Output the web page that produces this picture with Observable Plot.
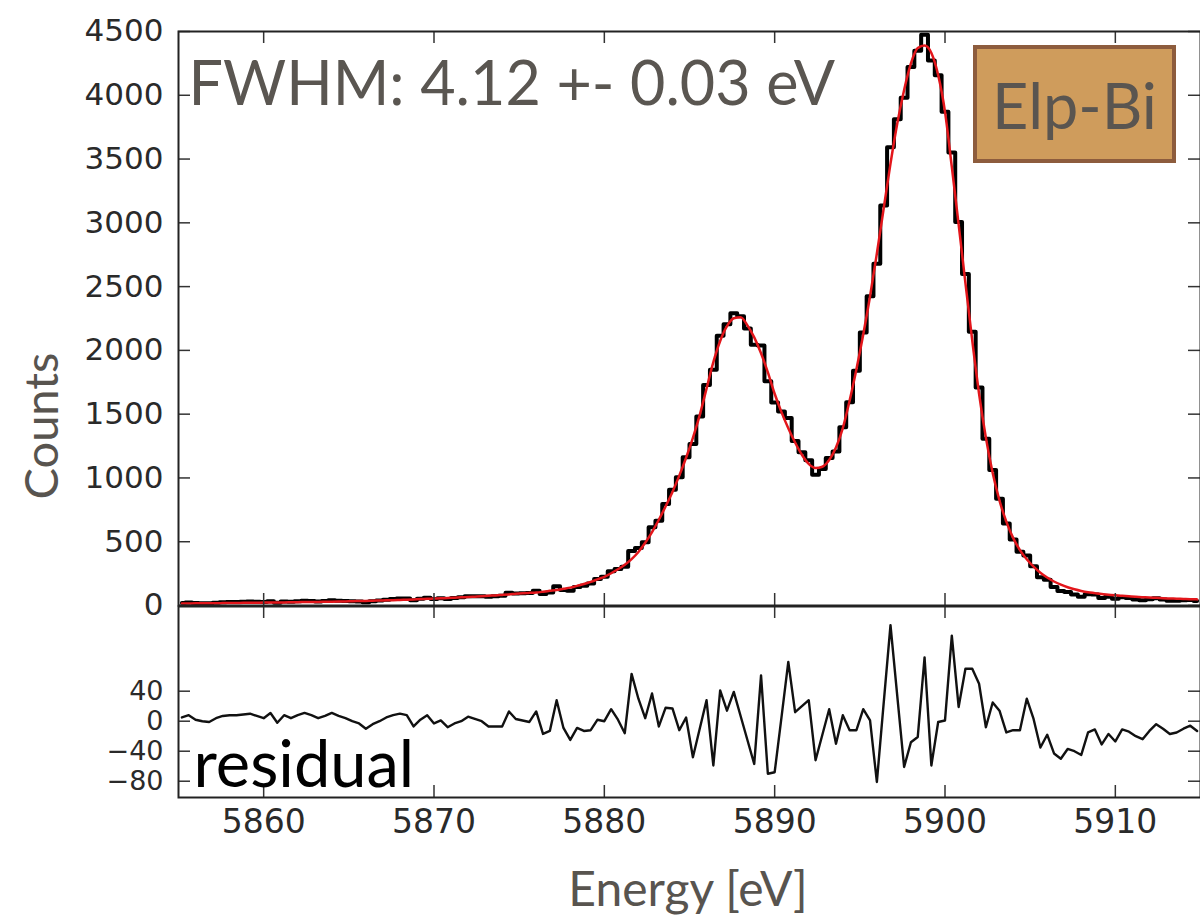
<!DOCTYPE html>
<html><head><meta charset="utf-8">
<script src="https://cdn.jsdelivr.net/npm/d3@7"></script>
<script src="https://cdn.jsdelivr.net/npm/@observablehq/plot@0.6"></script>
<style>
html,body{margin:0;padding:0;background:#fff;}
#wrap{position:relative;width:1200px;height:922px;overflow:hidden;background:#fff;}
#wrap svg{position:absolute;left:0;}
#main{top:0;} #resid{top:605px;}
.lbl{position:absolute;font-family:Lato,sans-serif;color:#58544f;line-height:1;white-space:nowrap;}
#ylab{left:40px;top:426px;font-size:47px;transform:translate(-50%,-50%) rotate(-90deg);}
#xlab{left:688px;top:888px;font-size:48px;transform:translate(-50%,-50%);}
#badge{position:absolute;left:973px;top:45px;width:203px;height:118px;box-sizing:border-box;border:4px solid #8d5c3d;background:#cf9c5c;display:flex;align-items:center;justify-content:center;font-family:Lato,sans-serif;font-size:63px;color:#5a5550;line-height:1;}
</style></head><body><div id="wrap"></div>
<script>
const energy = [
5855.2,5855.6,5856,5856.4,5856.8,5857.2,5857.6,5858,5858.4,5858.8,
5859.2,5859.6,5860,5860.4,5860.8,5861.2,5861.6,5862,5862.4,5862.8,
5863.2,5863.6,5864,5864.4,5864.8,5865.2,5865.6,5866,5866.4,5866.8,
5867.2,5867.6,5868,5868.4,5868.8,5869.2,5869.6,5870,5870.4,5870.8,
5871.2,5871.6,5872,5872.4,5872.8,5873.2,5873.6,5874,5874.4,5874.8,
5875.2,5875.6,5876,5876.4,5876.8,5877.2,5877.6,5878,5878.4,5878.8,
5879.2,5879.6,5880,5880.4,5880.8,5881.2,5881.6,5882,5882.4,5882.8,
5883.2,5883.6,5884,5884.4,5884.8,5885.2,5885.6,5886,5886.4,5886.8,
5887.2,5887.6,5888,5888.4,5888.8,5889.2,5889.6,5890,5890.4,5890.8,
5891.2,5891.6,5892,5892.4,5892.8,5893.2,5893.6,5894,5894.4,5894.8,
5895.2,5895.6,5896,5896.4,5896.8,5897.2,5897.6,5898,5898.4,5898.8,
5899.2,5899.6,5900,5900.4,5900.8,5901.2,5901.6,5902,5902.4,5902.8,
5903.2,5903.6,5904,5904.4,5904.8,5905.2,5905.6,5906,5906.4,5906.8,
5907.2,5907.6,5908,5908.4,5908.8,5909.2,5909.6,5910,5910.4,5910.8,
5911.2,5911.6,5912,5912.4,5912.8,5913.2,5913.6,5914,5914.4,5914.8];

const counts = [
20,24,19,17,17,22,26,28,28,30,
31,29,27,34,22,32,29,34,38,36,
32,36,41,38,36,34,32,26,34,39,
46,50,54,54,41,52,60,51,57,51,
58,64,72,72,72,69,72,76,100,95,
97,98,115,91,102,150,122,115,145,155,
173,207,225,269,286,304,427,450,496,613,
665,796,907,1006,1163,1266,1482,1728,1849,2115,
2204,2291,2267,2171,2045,2039,1758,1592,1521,1469,
1290,1202,1138,1026,1070,1156,1208,1398,1594,1840,
2140,2425,2679,3136,3592,3813,3981,4222,4349,4475,
4273,4157,3871,3552,3007,2598,2146,1710,1308,1063,
836,643,518,422,392,307,221,202,145,113,
106,87,69,89,86,59,68,53,65,58,
48,41,49,56,47,38,38,41,43,35];

const fit = [
15,16,17,17,18,18,19,20,20,21,
21,22,23,23,24,24,25,26,27,28,
28,29,30,31,32,34,35,36,38,39,
41,42,44,46,48,50,52,54,56,59,
61,64,66,69,72,76,79,83,87,92,
96,99,102,108,115,122,131,140,154,168,
185,205,225,253,284,320,364,420,492,576,
672,778,890,1018,1158,1314,1492,1700,1908,2074,
2190,2252,2260,2196,2102,1978,1828,1660,1516,1390,
1278,1182,1110,1078,1088,1140,1238,1390,1606,1852,
2124,2424,2760,3112,3464,3780,4042,4250,4370,4390,
4332,4158,3870,3438,2988,2528,2076,1660,1316,1038,
822,658,530,434,362,304,256,220,188,163,
143,127,114,104,97,90,85,80,76,72,
68,65,62,60,57,55,53,51,49,48];

const residual = [
5,8,2,0,-1,4,7,8,8,9,
10,7,4,11,-2,8,4,8,11,8,
4,7,11,7,4,0,-3,-10,-4,0,
5,8,10,8,-7,2,8,-3,1,-8,
-3,0,6,3,0,-7,-7,-7,13,3,
1,-1,13,-17,-13,28,-9,-25,-9,-13,
-12,2,0,16,2,-16,63,30,4,37,
-7,18,17,-12,5,-48,-10,28,-59,41,
14,39,7,-25,-57,61,-70,-68,5,79,
12,20,28,-52,-18,16,-30,8,-12,-12,
16,1,-81,24,128,33,-61,-28,-21,85,
-59,-1,1,114,19,70,70,50,-8,25,
14,-15,-12,-12,30,3,-35,-18,-43,-50,
-37,-40,-45,-15,-11,-31,-17,-27,-11,-14,
-20,-24,-13,-4,-10,-17,-15,-10,-6,-13];

const energyTicks = [5860,5870,5880,5890,5900,5910];
const countTicks = [0,500,1000,1500,2000,2500,3000,3500,4000,4500];
const residualTicks = [-80,-40,0,40];
const fwhmLabel = "FWHM: 4.12 +- 0.03 eV";
const residualLabel = "residual";
const sourceLabel = "Elp-Bi";
const yTitle = "Counts";
const xTitle = "Energy [eV]";

const rows = energy.map((e, i) => ({energy: e, counts: counts[i], fit: fit[i], residual: residual[i]}));

const W = 1200, ML = 178;
const innerW = W - ML;
const mainInnerH = 574, residInnerH = 191, tickLen = 12;
const axisStyle = {fontFamily: "'DejaVu Sans', sans-serif", fontSize: "31px", color: "#2a2a2a", background: "transparent", overflow: "visible"};
const tickStroke = {stroke: "#333", strokeWidth: 1.5};

function innerTicks(xt, yt, innerH) {
  return [
    Plot.tickX(xt, {x: d => d, insetBottom: innerH - tickLen, ...tickStroke}),
    Plot.tickX(xt, {x: d => d, insetTop: innerH - tickLen, ...tickStroke}),
    Plot.tickY(yt, {y: d => d, insetRight: innerW - tickLen, ...tickStroke}),
    Plot.tickY(yt, {y: d => d, insetLeft: innerW - tickLen, ...tickStroke})
  ];
}

const main = Plot.plot({
  width: W, height: 606,
  marginLeft: ML, marginRight: 0, marginTop: 31, marginBottom: 1,
  style: axisStyle,
  x: {domain: [5855, 5915], axis: null},
  y: {domain: [0, 4500]},
  marks: [
    Plot.lineY(rows, {x: "energy", y: "counts", curve: "step", stroke: "#000", strokeWidth: 4, clip: true}),
    Plot.lineY(rows, {x: "energy", y: "fit", curve: "monotone-x", stroke: "#e3161b", strokeWidth: 2.5, clip: true}),
    ...innerTicks(energyTicks, countTicks, mainInnerH),
    Plot.frame({stroke: "#222", strokeWidth: 2}),
    Plot.axisY({ticks: countTicks, tickSize: 0, tickPadding: 15, label: null, tickFormat: d => String(d)}),
    Plot.text([fwhmLabel], {text: d => d, frameAnchor: "top-left", dx: 10, dy: 54, textAnchor: "start", lineAnchor: "middle",
      fontFamily: "Lato, sans-serif", fontSize: 61, fill: "#5a5651"})
  ]
});
main.id = "main";

const resid = Plot.plot({
  width: W, height: 317,
  marginLeft: ML, marginRight: 0, marginTop: 1, marginBottom: 125,
  style: axisStyle,
  x: {domain: [5855, 5915]},
  y: {domain: [-101.7, 152.9]},
  marks: [
    Plot.lineY(rows, {x: "energy", y: "residual", stroke: "#111", strokeWidth: 2.4, strokeLinejoin: "round"}),
    ...innerTicks(energyTicks, residualTicks, residInnerH),
    Plot.frame({stroke: "#222", strokeWidth: 2}),
    Plot.axisY({ticks: residualTicks, tickSize: 0, tickPadding: 15, label: null, fontSize: 27}),
    Plot.axisX({ticks: energyTicks, tickSize: 0, tickPadding: 12, label: null, tickFormat: d => String(d), fontSize: 33}),
    Plot.text([residualLabel], {text: d => d, frameAnchor: "bottom-left", dx: 15, dy: -31, textAnchor: "start", lineAnchor: "middle",
      fontFamily: "Lato, sans-serif", fontSize: 65, fill: "#000"})
  ]
});
resid.id = "resid";

const wrap = document.getElementById("wrap");
wrap.appendChild(main);
wrap.appendChild(resid);

const ylab = document.createElement("div"); ylab.className = "lbl"; ylab.id = "ylab"; ylab.textContent = yTitle; wrap.appendChild(ylab);
const xlab = document.createElement("div"); xlab.className = "lbl"; xlab.id = "xlab"; xlab.textContent = xTitle; wrap.appendChild(xlab);
const badge = document.createElement("div"); badge.id = "badge"; badge.textContent = sourceLabel; wrap.appendChild(badge);
</script>
</body></html>
